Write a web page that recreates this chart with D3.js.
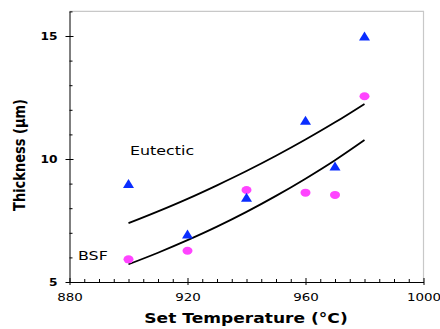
<!DOCTYPE html>
<html>
<head>
<meta charset="utf-8">
<script src="https://cdn.jsdelivr.net/npm/d3@7"></script>
<style>
  html, body { margin: 0; padding: 0; background: #fff; }
  svg { display: block; font-family: "DejaVu Sans", Verdana, sans-serif; }
</style>
</head>
<body>
<div id="chart"></div>
<script>
// measured values
const temps = [900, 920, 940, 960, 970, 980];
const eutectic = [9.0, 6.95, 8.45, 11.58, 9.72, 15.0];
const bsf = [5.92, 6.27, 8.74, 8.63, 8.54, 12.55];
const fitTemps = [900, 910, 920, 930, 940, 950, 960, 970, 980];
const eutecticFit = [7.39, 7.87, 8.38, 8.93, 9.51, 10.13, 10.79, 11.49, 12.24];
const bsfFit = [5.72, 6.19, 6.70, 7.25, 7.85, 8.50, 9.20, 9.95, 10.77];
const xTicks = [880, 920, 960, 1000];
const yTicks = [5, 10, 15];
const xMinor = [885, 890, 895, 900, 905, 910, 915, 925, 930, 935, 940, 945, 950, 955, 965, 970, 975, 980, 985, 990, 995];
const yMinor = [6, 7, 8, 9, 11, 12, 13, 14, 16];

const W = 440, H = 329;
const SX = 1.22; // the original is stretched sideways

const svg = d3.select("#chart").append("svg")
    .attr("width", W)
    .attr("height", H);

svg.append("rect").attr("width", W).attr("height", H).attr("fill", "#fff");

const x = d3.scaleLinear().domain([880, 1000]).range([69.5, 423.5]);
const y = d3.scaleLinear().domain([5, 16]).range([282, 11.4]);

// grey top and right frame
svg.append("path")
    .attr("d", `M${x(880)},${y(16)}H${x(1000)}V${y(5)}`)
    .attr("fill", "none")
    .attr("stroke", "#c8c8c8")
    .attr("stroke-width", 1.2);

// x axis
const gx = svg.append("g").attr("transform", `translate(0,${y(5)})`);
gx.call(d3.axisBottom(x).tickValues(xMinor).tickSize(-3).tickFormat(""))
    .call(g => g.select(".domain").remove());
const gxMajor = svg.append("g").attr("transform", `translate(0,${y(5)})`)
    .call(d3.axisBottom(x).tickValues(xTicks).tickFormat(d3.format("d")).tickSize(3).tickSizeOuter(0));
gxMajor.selectAll(".tick line").attr("y1", -4).attr("y2", 3);
gxMajor.selectAll(".tick text")
    .attr("y", 19).attr("dy", null)
    .attr("transform", `scale(${SX},1)`)
    .attr("font-size", 11)
    .attr("font-family", "DejaVu Sans");

// y axis
const gy = svg.append("g").attr("transform", `translate(${x(880)},0)`);
gy.call(d3.axisLeft(y).tickValues(yMinor).tickSize(-3).tickFormat(""))
    .call(g => g.select(".domain").remove());
const gyMajor = svg.append("g").attr("transform", `translate(${x(880)},0)`)
    .call(d3.axisLeft(y).tickValues(yTicks).tickSize(4).tickSizeOuter(0));
gyMajor.selectAll(".tick line").attr("x1", 4).attr("x2", -4);
gyMajor.selectAll(".tick text")
    .attr("x", -12 / SX).attr("dy", "0.36em")
    .attr("transform", `scale(${SX},1)`)
    .attr("font-size", 10)
    .attr("font-weight", "bold")
    .attr("font-family", "DejaVu Sans");

svg.selectAll(".domain").attr("stroke", "#000").attr("stroke-width", 1);
svg.selectAll(".tick line").attr("stroke", "#000");

// fitted curves
const line = d3.line().x(d => x(d[0])).y(d => y(d[1])).curve(d3.curveMonotoneX);
[eutecticFit, bsfFit].forEach(vals => {
  svg.append("path")
      .datum(fitTemps.map((t, i) => [t, vals[i]]))
      .attr("d", line)
      .attr("fill", "none")
      .attr("stroke", "#000")
      .attr("stroke-width", 1.8);
});

// BSF points
svg.selectAll(".bsf")
    .data(temps.map((t, i) => [t, bsf[i]]))
    .enter().append("ellipse")
    .attr("class", "bsf")
    .attr("cx", d => x(d[0]))
    .attr("cy", d => y(d[1]))
    .attr("rx", 5)
    .attr("ry", 4)
    .attr("fill", "#ff44ff");

// eutectic points
svg.selectAll(".eut")
    .data(temps.map((t, i) => [t, eutectic[i]]))
    .enter().append("path")
    .attr("class", "eut")
    .attr("transform", d => `translate(${x(d[0])},${y(d[1])})`)
    .attr("d", "M0,-4.5L5.5,4.5L-5.5,4.5Z")
    .attr("fill", "#0a2dff");

// labels
function stretchedText(px, py, str, size, weight, anchor, rot) {
  return svg.append("text")
      .attr("transform", `translate(${px},${py}) scale(${SX},1)` + (rot ? ` rotate(${rot})` : ""))
      .attr("font-size", size)
      .attr("font-weight", weight)
      .attr("text-anchor", anchor)
      .attr("fill", "#000")
      .text(str);
}
stretchedText(130, 155, "Eutectic", 13, "normal", "start");
stretchedText(78, 260, "BSF", 13, "normal", "start");
stretchedText(246, 323, "Set Temperature (°C)", 14, "bold", "middle");
stretchedText(25, 155, "Thickness (µm)", 13, "bold", "middle", -90);
</script>
</body>
</html>
